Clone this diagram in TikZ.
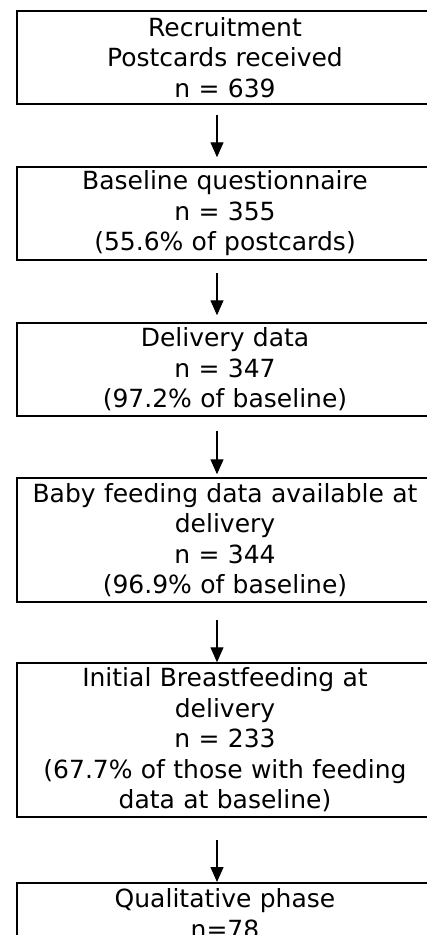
\documentclass[tikz,border=0pt]{standalone}
\usepackage{fontspec}
\setmainfont{DejaVu Sans}
\usetikzlibrary{arrows.meta}

\begin{document}
\begin{tikzpicture}[x=1pt,y=-1pt,
  stage/.style={draw=black, line width=1.5pt, minimum width=416pt, text width=410pt,
    align=center, inner sep=3pt, font=\fontsize{25}{30.5}\selectfont},
  flow/.style={line width=1.3pt, -{Triangle[length=15pt,width=13pt]}}]
\useasboundingbox (0,0) rectangle (427,935);
\clip (0,0) rectangle (427,935);

\coordinate (ax) at (217,0);

\draw (225,57.5) node [stage, minimum height=93pt] (recruit) {Recruitment\\Postcards received\\n = 639};
\draw (225,213.5) node [stage, minimum height=93pt] (baseline) {Baseline questionnaire\\n = 355\\(55.6\% of postcards)};
\draw (225,369.5) node [stage, minimum height=93pt] (delivery) {Delivery data\\n = 347\\(97.2\% of baseline)};
\draw (225,540) node [stage, minimum height=124pt] (feeding) {Baby feeding data available at\\delivery\\n = 344\\(96.9\% of baseline)};
\draw (225,740) node [stage, minimum height=154pt] (breast) {Initial Breastfeeding at\\delivery\\n = 233\\(67.7\% of those with feeding\\data at baseline)};
\draw (225,882) node [stage, anchor=north, inner ysep=6pt] (quali) {Qualitative phase\\n=78};

\draw[flow, shorten <=10pt, shorten >=9pt] (recruit.south -| ax) -- (baseline.north -| ax);
\draw[flow, shorten <=12pt, shorten >=7pt] (baseline.south -| ax) -- (delivery.north -| ax);
\draw[flow, shorten <=14pt, shorten >=3pt] (delivery.south -| ax) -- (feeding.north -| ax);
\draw[flow, shorten <=17pt] (feeding.south -| ax) -- (breast.north -| ax);
\draw[flow, shorten <=22pt] (breast.south -| ax) -- (quali.north -| ax);
\end{tikzpicture}
\end{document}
